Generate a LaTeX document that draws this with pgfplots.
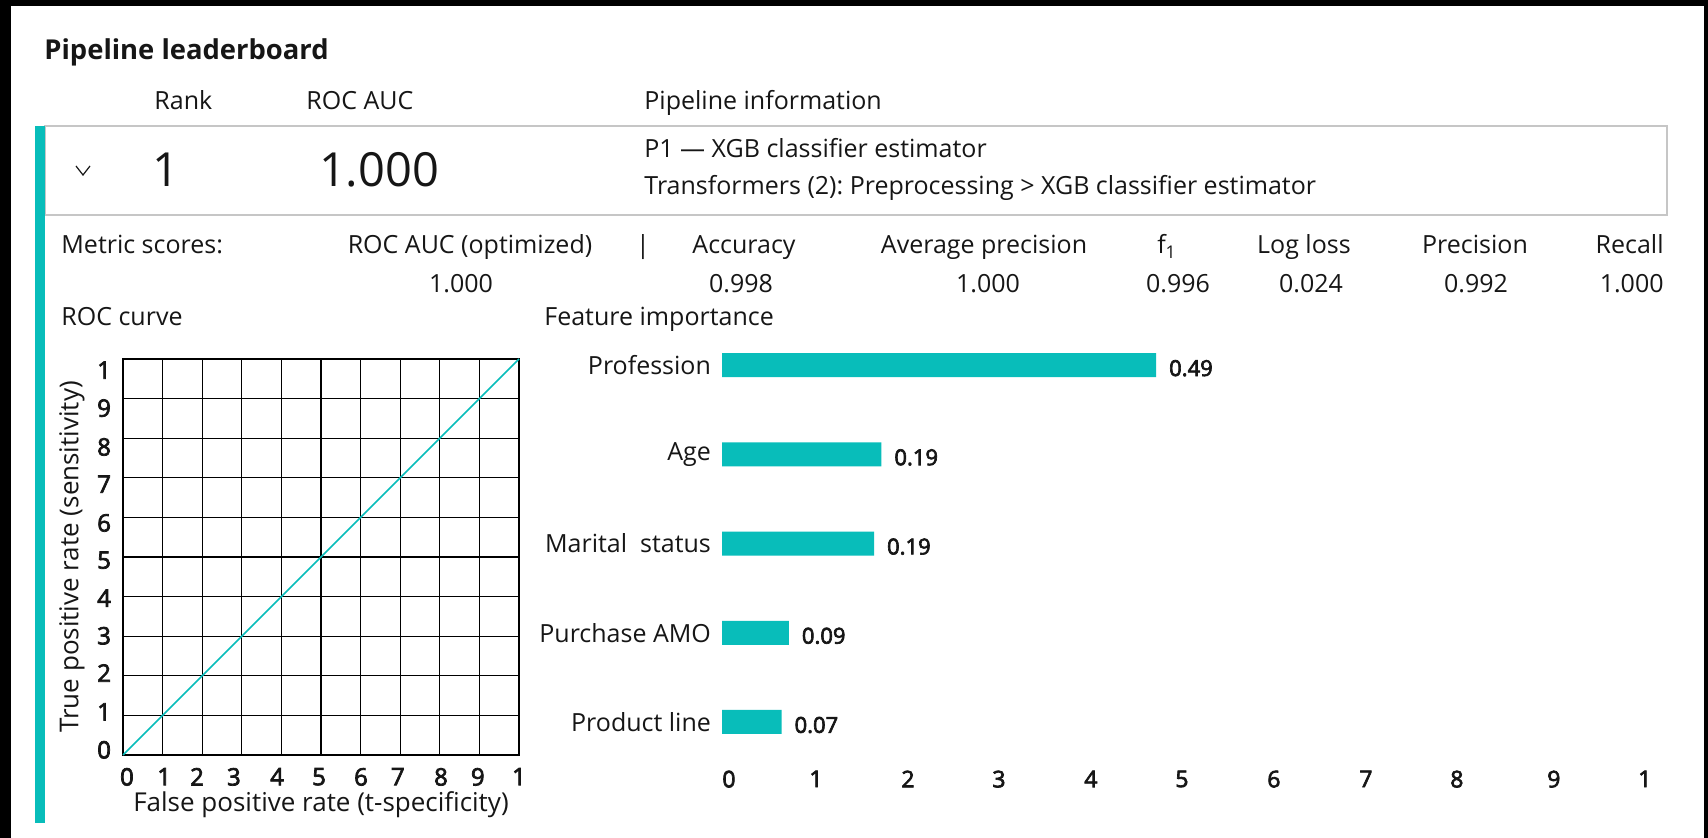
\documentclass[border=0pt]{standalone}
\usepackage{fontspec}
\setmainfont{Open Sans}
\newfontfamily\tickfont[FakeBold=3]{Open Sans}
\usepackage{pgfplots}
\usepackage{pgfplotstable}
\pgfplotsset{compat=1.18}
\definecolor{tealc}{RGB}{8,189,186}
\definecolor{boxgray}{RGB}{198,198,198}
\definecolor{txt}{RGB}{22,22,22}
\newcommand\mf{\fontsize{12.5}{14}\selectfont}
\newcommand\bigf{\fontsize{23.5}{26}\selectfont}
\frenchspacing

% feature importance: bar length (as drawn) and printed value
\pgfplotstableread{
y x label
4 0.474 0.49
3 0.174 0.19
2 0.166 0.19
1 0.073 0.09
0 0.065 0.07
}\fidata

\begin{document}
\begin{tikzpicture}
\begin{scope}[x=0.5pt,y=-0.5pt]
\useasboundingbox (0,0) rectangle (1708,838);
\fill[black] (0,0) rectangle (1708,838);
\fill[white] (11,6) rectangle (1704,838);
% title
\node[anchor=base west,inner sep=0,font=\fontsize{13.7}{16}\selectfont\bfseries,text=txt] at (44,60) {Pipeline leaderboard};
% header row
\node[anchor=base west,inner sep=0,font=\mf,text=txt] at (154,110) {Rank};
\node[anchor=base west,inner sep=0,font=\mf,text=txt] at (306,110) {ROC AUC};
\node[anchor=base west,inner sep=0,font=\mf,text=txt] at (644,110) {Pipeline information};
% box
\draw[boxgray,line width=0.8pt] (45,126) rectangle (1667,215);
\fill[tealc] (35,126) rectangle (45,823);
\draw[txt,line width=0.6pt] (76,166) -- (83,175) -- (90,166);
\node[anchor=base,inner sep=0,font=\bigf,text=txt] at (166,187) {1};
\node[anchor=base,inner sep=0,font=\bigf,text=txt] at (379,187) {1.000};
\node[anchor=base west,inner sep=0,font=\mf,text=txt] at (644,158) {P1 — XGB classifier estimator};
\node[anchor=base west,inner sep=0,font=\mf,text=txt] at (644,195) {Transformers (2): Preprocessing > XGB classifier estimator};
% metric scores
\node[anchor=base west,inner sep=0,font=\mf,text=txt] at (61,254) {Metric scores:};
\node[anchor=base,inner sep=0,font=\mf,text=txt] at (470,254) {ROC AUC (optimized)};
\node[anchor=base,inner sep=0,font=\mf,text=txt] at (643,254) {|};
\node[anchor=base,inner sep=0,font=\mf,text=txt] at (744,254) {Accuracy};
\node[anchor=base,inner sep=0,font=\mf,text=txt] at (984,254) {Average precision};
\node[anchor=base,inner sep=0,font=\mf,text=txt] at (1167,254) {f\textsubscript{1}};
\node[anchor=base,inner sep=0,font=\mf,text=txt] at (1304,254) {Log loss};
\node[anchor=base,inner sep=0,font=\mf,text=txt] at (1475,254) {Precision};
\node[anchor=base east,inner sep=0,font=\mf,text=txt] at (1664,254) {Recall};
\node[anchor=base,inner sep=0,font=\mf,text=txt] at (461,293) {1.000};
\node[anchor=base,inner sep=0,font=\mf,text=txt] at (741,293) {0.998};
\node[anchor=base,inner sep=0,font=\mf,text=txt] at (988,293) {1.000};
\node[anchor=base,inner sep=0,font=\mf,text=txt] at (1178,293) {0.996};
\node[anchor=base,inner sep=0,font=\mf,text=txt] at (1311,293) {0.024};
\node[anchor=base,inner sep=0,font=\mf,text=txt] at (1476,293) {0.992};
\node[anchor=base east,inner sep=0,font=\mf,text=txt] at (1664,293) {1.000};
% section titles
\node[anchor=base west,inner sep=0,font=\mf,text=txt] at (61,326) {ROC curve};
\node[anchor=base west,inner sep=0,font=\mf,text=txt] at (544,326) {Feature importance};
\end{scope}

% ROC curve
\begin{axis}[at={(61.5pt,-377.5pt)},anchor=south west,scale only axis,
  width=198pt,height=198pt,
  xmin=0,xmax=1,ymin=0,ymax=1,
  xtick={0.010,0.104,0.187,0.280,0.389,0.495,0.601,0.694,0.803,0.896,1.0},
  ytick={0.013,0.109,0.207,0.301,0.396,0.492,0.586,0.684,0.778,0.876,0.972},
  xticklabels={0,1,2,3,4,5,6,7,8,9,1},
  yticklabels={0,1,2,3,4,5,6,7,8,9,1},
  extra x ticks={0,0.1,0.2,0.3,0.4,0.5,0.6,0.7,0.8,0.9,1},
  extra y ticks={0,0.1,0.2,0.3,0.4,0.5,0.6,0.7,0.8,0.9,1},
  extra x tick labels={},extra y tick labels={},
  extra tick style={grid=major,major grid style={black,line width=0.6pt}},
  axis line style={black,line width=0.7pt},
  major tick length=0pt,
  tick label style={font=\tickfont\fontsize{12}{13}\selectfont,text=txt},
  xticklabel style={yshift=-3pt},
  yticklabel style={xshift=-2.5pt},
  xlabel={False positive rate (t-specificity)},
  ylabel={True positive rate (sensitivity)},
  label style={font=\fontsize{13}{15}\selectfont,text=txt},
  xlabel style={at={(axis description cs:0.5,-0.126)},anchor=center},
  ylabel style={at={(axis description cs:-0.129,0.5)},anchor=center},
  clip=false]
\addplot[tealc,line width=0.8pt] coordinates {(0,0) (1,1)};
\end{axis}

% Feature importance
\begin{axis}[at={(361pt,-383.3pt)},anchor=south west,scale only axis,
  width=462.5pt,height=223pt,
  xmin=0,xmax=1.01,ymin=-0.5,ymax=4.5,
  xbar,bar width=12pt,
  axis line style={draw=none},
  major tick length=0pt,
  xtick={0.0076,0.1026,0.2031,0.3024,0.4028,0.5022,0.6026,0.7031,0.8024,0.9083,1.0076},
  xticklabels={0,1,2,3,4,5,6,7,8,9,1},
  ytick={0,1,2,3,4},
  yticklabels={Product line,Purchase AMO,Marital\ \ status,Age,Profession},
  yticklabel style={font=\mf,text=txt,xshift=-2pt},
  xticklabel style={font=\tickfont\fontsize{11.5}{13}\selectfont,text=txt,yshift=1.5pt},
  nodes near coords,
  point meta=explicit symbolic,
  nodes near coords style={font=\tickfont\fontsize{11}{13}\selectfont,text=txt,anchor=west,xshift=3pt,yshift=-1.5pt},
  clip=false]
\addplot[fill=tealc,draw=none] table[x=x,y=y,meta=label]{\fidata};
\end{axis}
\end{tikzpicture}
\end{document}
